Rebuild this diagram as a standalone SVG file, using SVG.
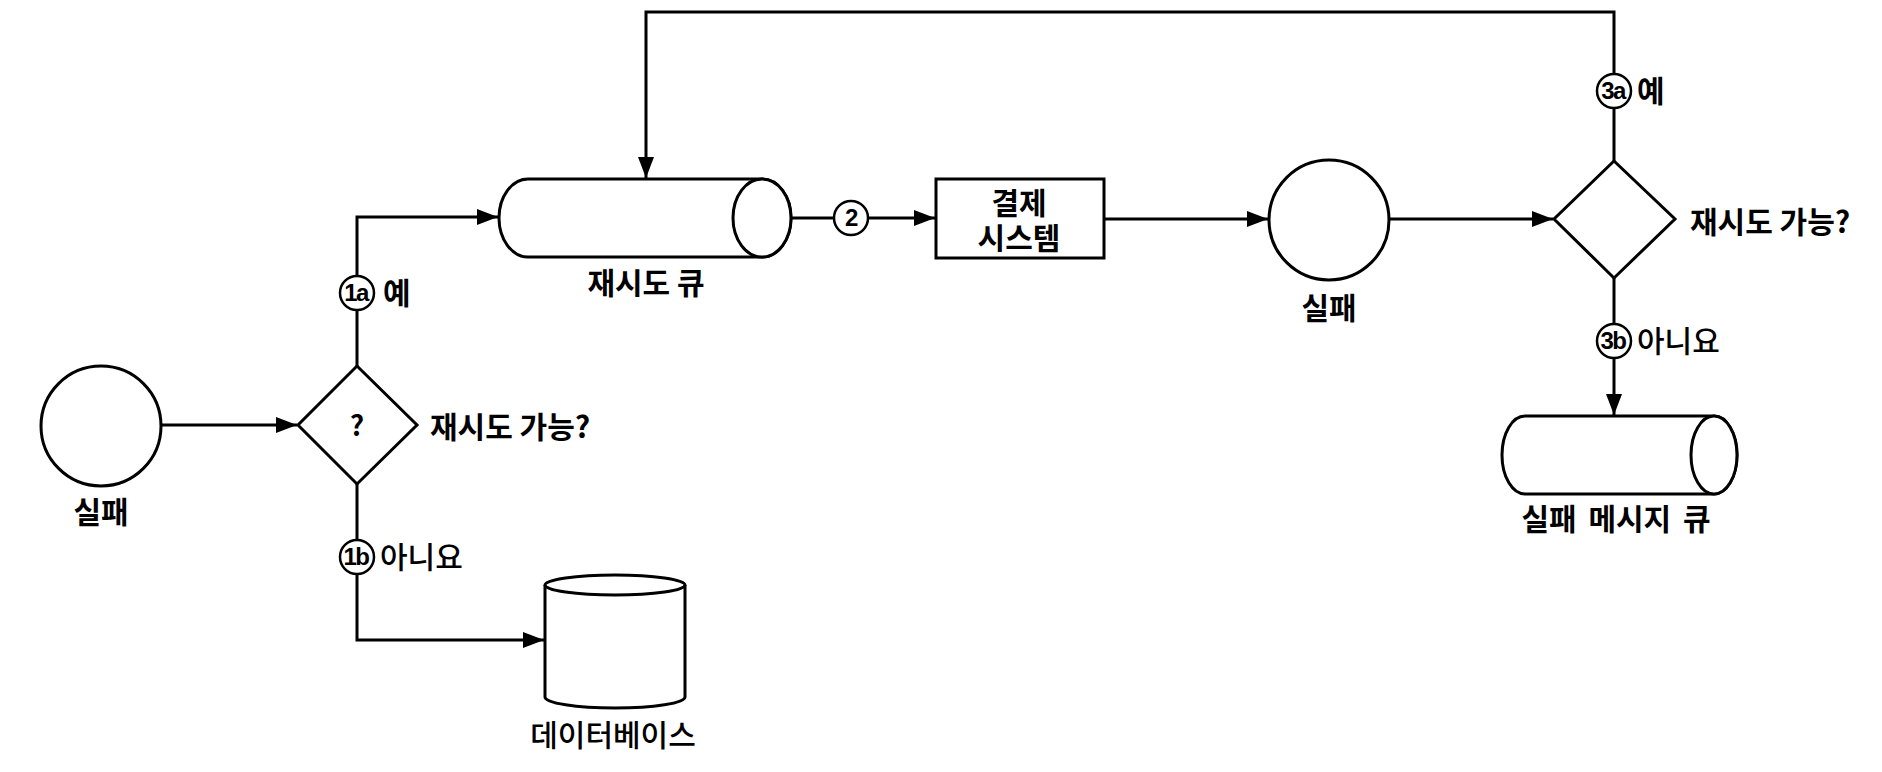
<svg xmlns="http://www.w3.org/2000/svg" width="1882" height="772" viewBox="0 0 1882 772">
<style>
.s{fill:#fff;stroke:#000;stroke-width:3}
.c{fill:none;stroke:#000;stroke-width:3}
.t{font-family:"Noto Sans CJK KR","Noto Sans",sans-serif;font-size:30px;fill:#000}
.b{font-weight:700}
.r{font-weight:500}
.m{text-anchor:middle}
.bd{fill:#fff;stroke:#000;stroke-width:2.5}
.bt{font-family:"Liberation Sans","Noto Sans",sans-serif;font-size:24px;font-weight:700;text-anchor:middle;fill:#000;letter-spacing:-1.5px}
</style>
<defs>
<marker id="a" markerUnits="userSpaceOnUse" markerWidth="22" markerHeight="18" refX="21" refY="8" orient="auto">
<path d="M0,0 L21,8 L0,16 Z" fill="#000"/>
</marker>
</defs>
<rect width="1882" height="772" fill="#fff"/>
<g id="connectors">
<path class="c" d="M161,425 H297" marker-end="url(#a)"/>
<path class="c" d="M357,366 V217 H498" marker-end="url(#a)"/>
<path class="c" d="M357,484 V640 H544" marker-end="url(#a)"/>
<path class="c" d="M791,218 H935" marker-end="url(#a)"/>
<path class="c" d="M1104,219 H1268" marker-end="url(#a)"/>
<path class="c" d="M1389,219 H1553" marker-end="url(#a)"/>
<path class="c" d="M1614,161 V12 H646 V178" marker-end="url(#a)"/>
<path class="c" d="M1614,278 V415" marker-end="url(#a)"/>
<g id="badge-1a"><circle class="bd" cx="357" cy="293" r="17"/><text class="bt" x="356" y="301">1a</text></g>
<g id="badge-1b"><circle class="bd" cx="357" cy="557" r="17"/><text class="bt" x="356" y="565">1b</text></g>
<g id="badge-2"><circle class="bd" cx="851" cy="218" r="17"/><text class="bt" x="851" y="226">2</text></g>
<g id="badge-3a"><circle class="bd" cx="1614" cy="91" r="17"/><text class="bt" x="1613" y="99">3a</text></g>
<g id="badge-3b"><circle class="bd" cx="1614" cy="341" r="17"/><text class="bt" x="1613" y="349">3b</text></g>
<text class="t b" x="383" y="304">예</text>
<text class="t r" x="380" y="568">아니요</text>
<text class="t b" x="1637" y="102">예</text>
<text class="t r" x="1637" y="352">아니요</text>
</g>
<g id="fail1">
<circle class="s" cx="101" cy="426" r="60"/>
<text class="t b m" x="101" y="523">실패</text>
</g>
<g id="decision1">
<path class="s" d="M357,366 L417,425 L357,484 L298,425 Z"/>
<text class="t b m" x="357" y="436" style="font-size:28px">?</text>
<text class="t b" x="430" y="438">재시도 가능?</text>
</g>
<g id="database">
<path class="s" d="M545,585 A70,10 0 0 1 685,585 V697 A70,11 0 0 1 545,697 Z"/>
<path class="c" d="M545,585 A70,10 0 0 0 685,585"/>
<text class="t r m" x="613" y="746">데이터베이스</text>
</g>
<g id="retry-queue">
<path class="s" d="M528,179 H762 A29,39 0 0 1 762,257 H528 A29,39 0 0 1 528,179 Z"/>
<ellipse class="s" cx="762" cy="218" rx="29" ry="39"/>
<text class="t b m" x="646" y="294">재시도 큐</text>
</g>
<g id="payment-system">
<rect class="s" x="936" y="179" width="168" height="79"/>
<text class="t b m" x="1019" y="214"><tspan x="1019" y="214">결제</tspan><tspan x="1019" y="249">시스템</tspan></text>
</g>
<g id="fail2">
<circle class="s" cx="1329" cy="220" r="60"/>
<text class="t b m" x="1329" y="319">실패</text>
</g>
<g id="decision2">
<path class="s" d="M1614,161 L1675,219 L1614,278 L1554,219 Z"/>
<text class="t b" x="1690" y="233">재시도 가능?</text>
</g>
<g id="dead-letter-queue">
<path class="s" d="M1525,416 H1714 A23,39 0 0 1 1714,494 H1525 A23,39 0 0 1 1525,416 Z"/>
<ellipse class="s" cx="1714" cy="455" rx="23" ry="39"/>
<text class="t b m" x="1616" y="530" style="word-spacing:5px">실패 메시지 큐</text>
</g>
</svg>
